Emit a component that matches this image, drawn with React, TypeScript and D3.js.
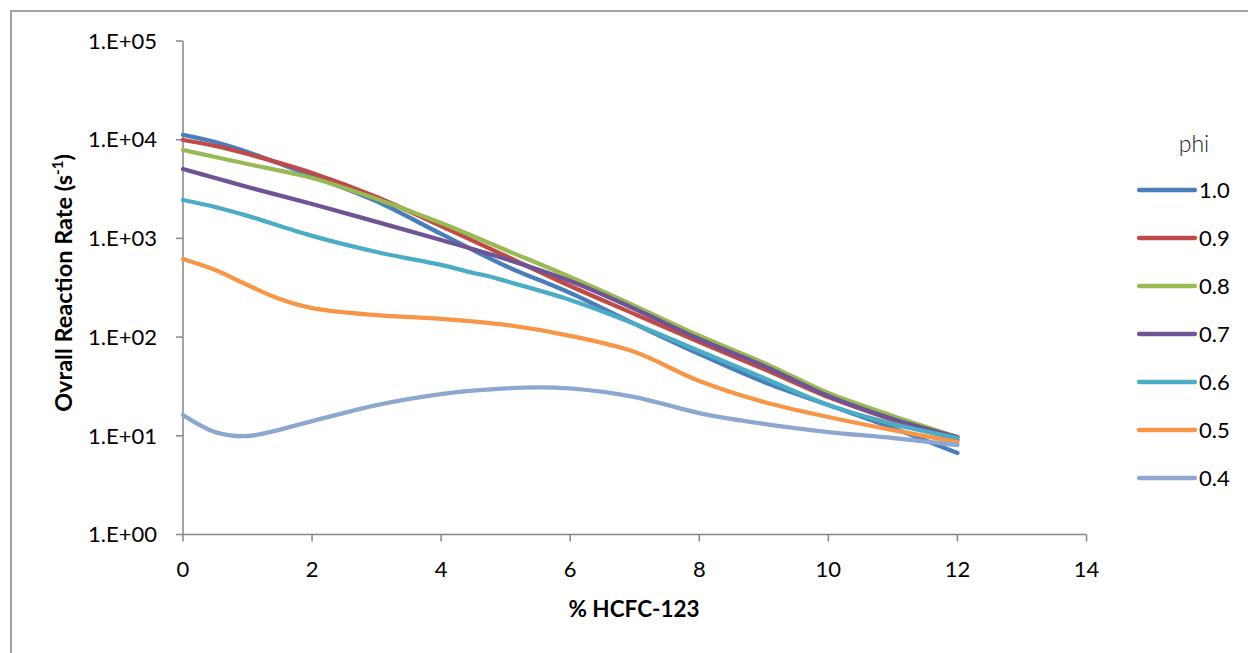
import React from "react";
import * as d3 from "d3";

// ---- data ----
const phiLabels = ["1.0", "0.9", "0.8", "0.7", "0.6", "0.5", "0.4"];
const seriesColors = ["#4A7EBB", "#BE4B48", "#98B954", "#6F5495", "#4BACC6", "#F79646", "#8EA7CF"];

const pctGrid = [0, 0.5, 1, 2, 3, 4, 5, 6, 7, 8, 9, 10, 11, 12];
const pctPhi06 = [0, 0.5, 1, 2, 3, 4, 4.5, 4.75, 5, 6, 7, 8, 9, 10, 11, 12];
const pctPhi05 = [0, 0.5, 1, 1.5, 2, 3, 4, 5, 6, 7, 8, 9, 10, 11, 12];
const pctPhi04 = [0, 0.5, 1, 2, 3, 4, 5, 5.5, 6, 7, 8, 9, 10, 11, 12];

const rate10 = [11200, 9480, 7510, 4290, 2380, 1110, 525, 280, 136, 67.4, 35.1, 20.5, 12.0, 6.69];
const rate09 = [9930, 8640, 7160, 4600, 2630, 1335, 663, 329, 171, 89.2, 47.5, 24.7, 14.5, 9.07];
const rate08 = [7860, 6680, 5670, 4090, 2510, 1430, 763, 406, 207, 103, 54.7, 27.1, 15.9, 9.72];
const rate07 = [5050, 4090, 3320, 2230, 1470, 963, 618, 370, 193, 95.6, 51.0, 25.3, 14.8, 9.72];
const rate06 = [2450, 2080, 1690, 1060, 728, 538, 446, 411, 370, 238, 136, 72.3, 38.5, 20.5, 13.2, 9.5];
const rate05 = [618, 478, 337, 243, 197, 167, 153, 133, 103, 70.6, 35.9, 22.0, 15.5, 11.4, 8.65];
const rate04 = [16.2, 10.9, 9.95, 14.1, 20.5, 26.5, 30.2, 31.0, 30.2, 24.7, 17.0, 13.2, 10.9, 9.5, 8.07];

const xTicks = [0, 2, 4, 6, 8, 10, 12, 14];
const yTicks = [1, 10, 100, 1000, 10000, 100000];

const seriesX = [pctGrid, pctGrid, pctGrid, pctGrid, pctPhi06, pctPhi05, pctPhi04];
const seriesY = [rate10, rate09, rate08, rate07, rate06, rate05, rate04];

const W = 1248;
const H = 653;
const FONT = "Lato, 'Open Sans', sans-serif";
const AXIS = "#868686";

export default function App() {
  const x = d3.scaleLinear().domain([0, 14]).range([183, 1086.5]);
  const y = d3.scaleLog().domain([1, 100000]).range([534.5, 41]);

  const line = d3
    .line<[number, number]>()
    .x((d) => x(d[0]))
    .y((d) => y(d[1]))
    .curve(d3.curveCatmullRom.alpha(0.5));

  const fmt = (v: number) => {
    const e = Math.round(Math.log10(v));
    return `1.E+${String(e).padStart(2, "0")}`;
  };

  const legendX0 = 1139;
  const legendX1 = 1195;
  const legendY0 = 190;
  const legendStep = 48;

  return (
    <svg
      width={W}
      height={H}
      style={{ position: "absolute", left: 0, top: 0, background: "#fff" }}
      fontFamily={FONT}
    >
      <rect x={0} y={0} width={W} height={H} fill="#fff" />
      {/* outer frame */}
      <rect x={11} y={11} width={W + 20} height={H + 20} fill="none" stroke={AXIS} strokeWidth={1.5} />

      {/* y axis */}
      <line x1={x(0)} x2={x(0)} y1={y(100000)} y2={y(1)} stroke={AXIS} strokeWidth={1.5} />
      {yTicks.map((t) => (
        <g key={"yt" + t}>
          <line x1={x(0) - 7} x2={x(0)} y1={y(t)} y2={y(t)} stroke={AXIS} strokeWidth={1.5} />
          <text x={157} y={y(t)} dy="0.35em" textAnchor="end" fontSize={22} fill="#000">
            {fmt(t)}
          </text>
        </g>
      ))}

      {/* x axis */}
      <line x1={x(0)} x2={x(14)} y1={y(1)} y2={y(1)} stroke={AXIS} strokeWidth={1.5} />
      {xTicks.map((t) => (
        <g key={"xt" + t}>
          <line x1={x(t)} x2={x(t)} y1={y(1)} y2={y(1) + 7} stroke={AXIS} strokeWidth={1.5} />
          <text x={x(t)} y={577} textAnchor="middle" fontSize={22} fill="#000">
            {t}
          </text>
        </g>
      ))}

      {/* axis titles */}
      <text x={634} y={617} textAnchor="middle" fontSize={22.5} fontWeight="bold" fill="#000">
        % HCFC-123
      </text>
      <text
        transform="translate(72,283) rotate(-90)"
        textAnchor="middle"
        fontSize={23.5}
        fontWeight="bold"
        fill="#000"
      >
        Ovrall Reaction Rate (s
        <tspan dy={-9} fontSize={15}>-1</tspan>
        <tspan dy={9}>)</tspan>
      </text>

      {/* series */}
      {seriesY.map((ys, i) => {
        const pts: [number, number][] = ys.map((v, j) => [seriesX[i][j], v]);
        return (
          <path
            key={"s" + i}
            d={line(pts) || ""}
            fill="none"
            stroke={seriesColors[i]}
            strokeWidth={4.3}
            strokeLinecap="round"
            strokeLinejoin="round"
          />
        );
      })}

      {/* legend */}
      <text x={1194} y={152} textAnchor="middle" fontSize={23} fontWeight={300} fill="#222">
        phi
      </text>
      {phiLabels.map((lab, i) => {
        const ly = legendY0 + i * legendStep;
        return (
          <g key={"lg" + i}>
            <line x1={legendX0} x2={legendX1} y1={ly} y2={ly} stroke={seriesColors[i]} strokeWidth={4.3} strokeLinecap="round" />
            <text x={1199} y={ly} dy="0.35em" fontSize={22} fill="#000">
              {lab}
            </text>
          </g>
        );
      })}
    </svg>
  );
}
